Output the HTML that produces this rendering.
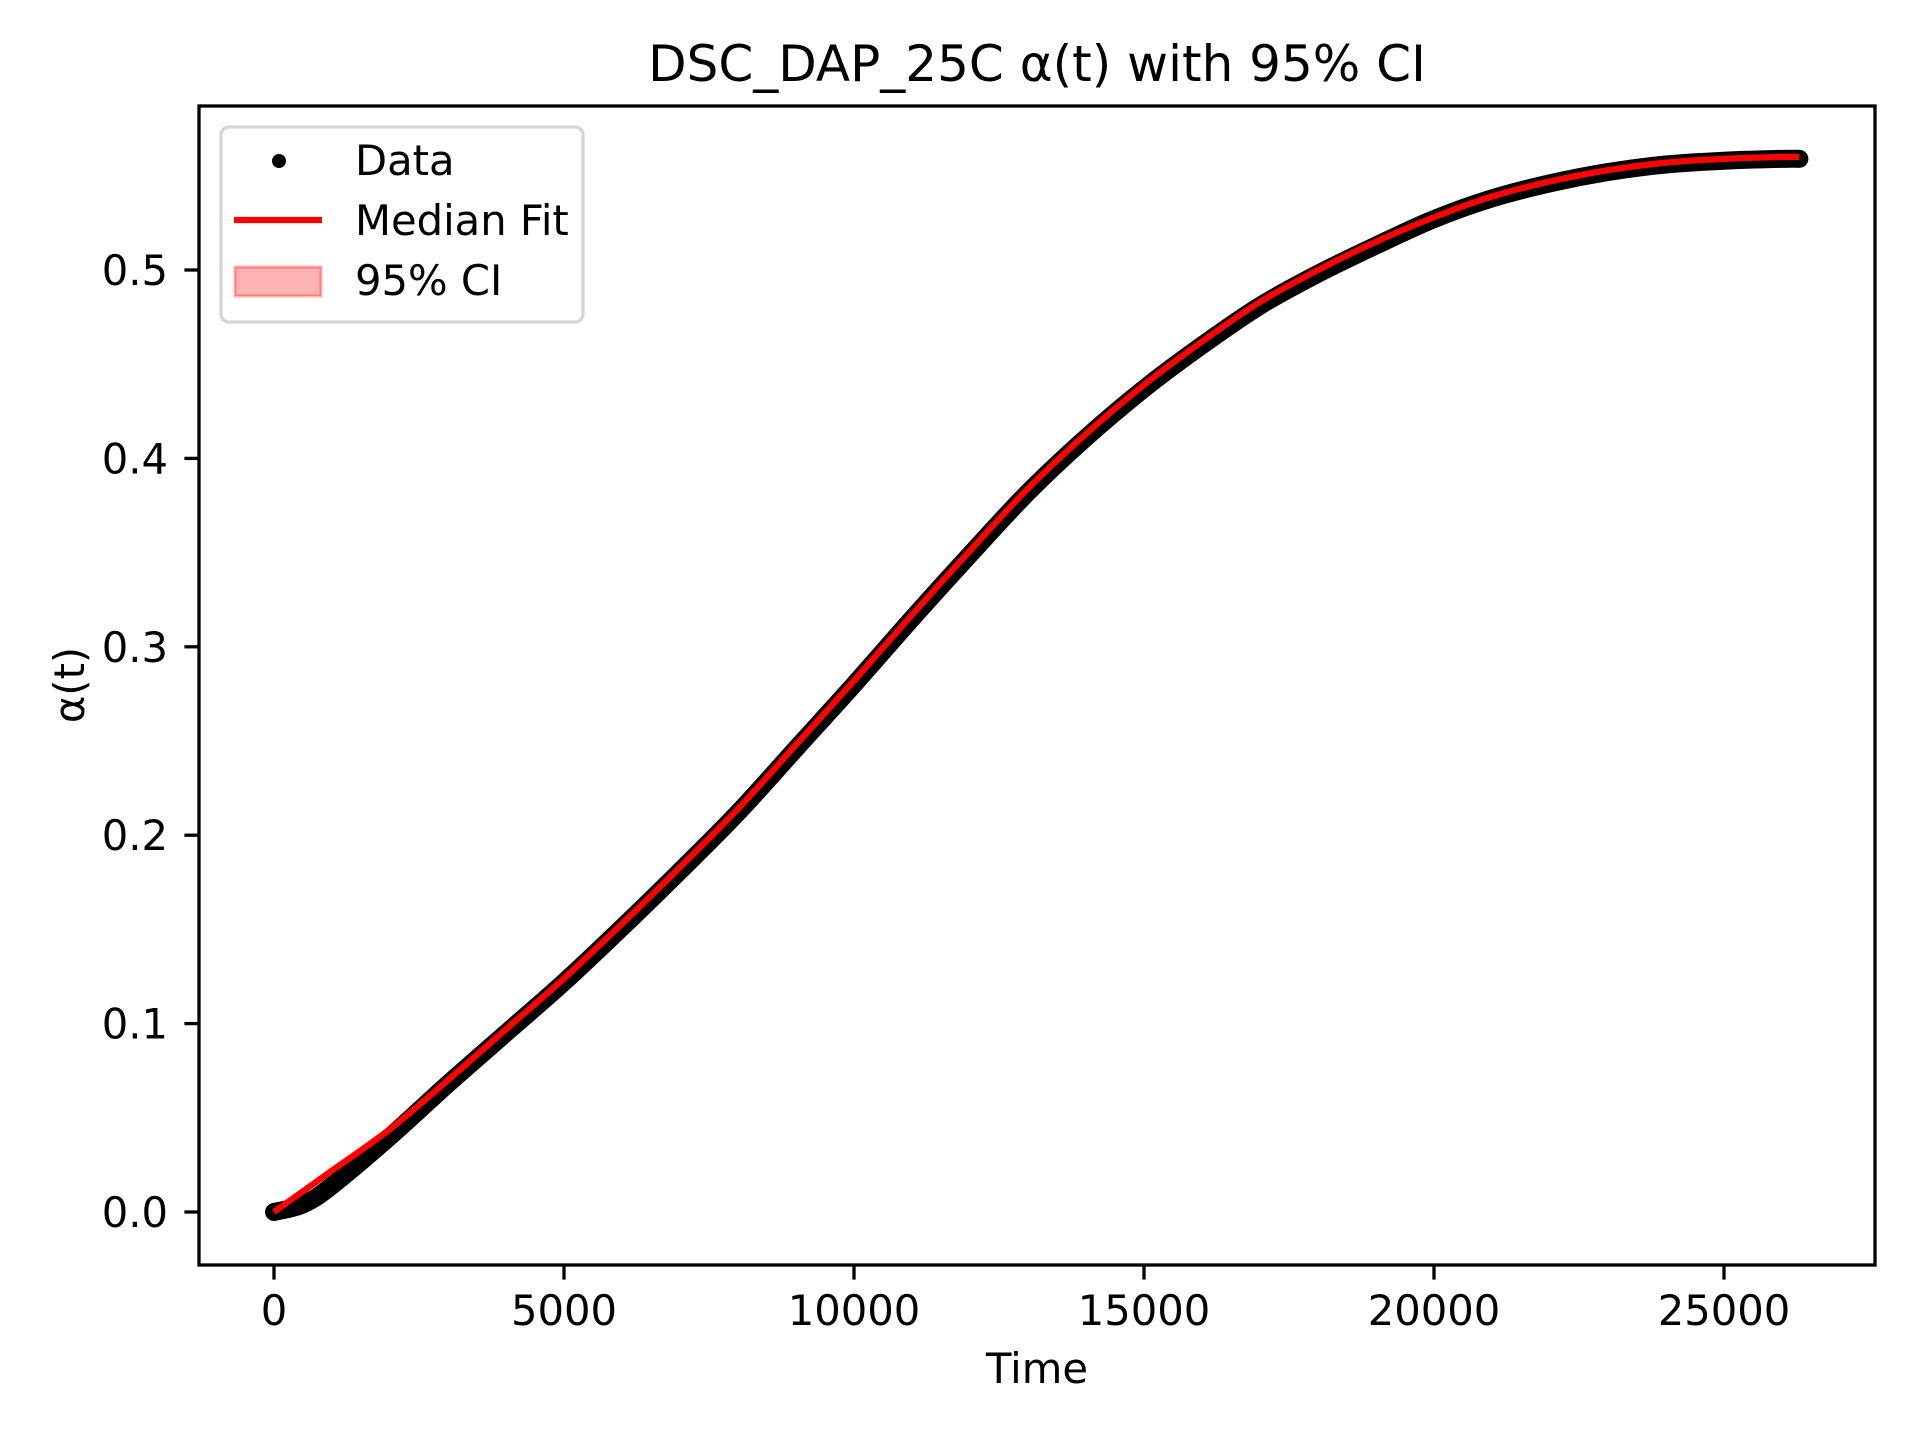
<!DOCTYPE html>
<html><head><meta charset="utf-8"><style>
html,body{margin:0;padding:0;background:#fff;}
svg text{font-family:"DejaVu Sans","Liberation Sans",sans-serif;fill:#000;}
</style></head><body>
<svg id="chart" width="1920" height="1440" viewBox="0 0 1920 1440" xmlns="http://www.w3.org/2000/svg">
<rect width="1920" height="1440" fill="#fff"/>
<text x="1037" y="81" font-size="50" text-anchor="middle">DSC_DAP_25C α(t) with 95% CI</text>
<g id="plot"></g>
<g id="axes"></g>
<text x="1037" y="1383" font-size="41.7" text-anchor="middle">Time</text>
<text transform="translate(84,685) rotate(-90)" font-size="41.7" text-anchor="middle">α(t)</text>
<g>
<rect x="221" y="127" width="362" height="195" rx="8" fill="#fff" fill-opacity="0.8" stroke="#d5d5d5" stroke-width="3.3"/>
<circle cx="279" cy="161" r="7" fill="#000"/>
<text x="355" y="175" font-size="41.7">Data</text>
<line x1="234" y1="220" x2="322" y2="220" stroke="#f00" stroke-width="6.25"/>
<text x="355" y="235" font-size="41.7">Median Fit</text>
<rect x="235" y="267" width="86" height="29" fill="rgba(255,0,0,0.3)" stroke="rgba(255,0,0,0.3)" stroke-width="3"/>
<text x="355" y="295" font-size="41.7">95% CI</text>
</g>
</svg>
<script>
const dataTime=[0,500,1000,2000,3000,4000,5000,6000,7000,8000,9000,10000,11000,12000,13000,14000,15000,16000,17000,18000,19000,20000,21000,22000,23000,24000,25000,26000,26300];
const dataAlpha=[0,0.004,0.014,0.040,0.068,0.095,0.122,0.151,0.181,0.212,0.246,0.280,0.315,0.349,0.382,0.411,0.437,0.460,0.481,0.498,0.513,0.527,0.538,0.546,0.552,0.556,0.558,0.559,0.559];
const fitTime=[0,500,1000,2000,3000,4000,5000,6000,7000,8000,9000,10000,11000,12000,13000,14000,15000,16000,17000,18000,19000,20000,21000,22000,23000,24000,25000,26000,26300];
const fitAlpha=[0,0.011,0.022,0.044,0.070,0.097,0.124,0.153,0.183,0.214,0.248,0.282,0.317,0.351,0.384,0.413,0.439,0.462,0.483,0.500,0.515,0.528,0.539,0.547,0.553,0.557,0.559,0.560,0.560];
const ciLow=fitAlpha.map(v=>v-0.001);
const ciHigh=fitAlpha.map(v=>v+0.001);
const xTicks=[0,5000,10000,15000,20000,25000];
const xTickLabels=["0","5000","10000","15000","20000","25000"];
const yTicks=[0,0.1,0.2,0.3,0.4,0.5];
const yTickLabels=["0.0","0.1","0.2","0.3","0.4","0.5"];

const L=199,R=1875,T=106,B=1265;
const X=t=>274+t*0.058;
const Y=a=>1212-a*1884;
const NS="http://www.w3.org/2000/svg";
const plot=document.getElementById('plot'),axes=document.getElementById('axes');
function mk(tag,attrs,parent){const e=document.createElementNS(NS,tag);for(const k in attrs)e.setAttribute(k,attrs[k]);parent.appendChild(e);return e;}
function spline(ts,as){
  const p=ts.map((t,i)=>[X(t),Y(as[i])]);
  let d='M'+p[0][0]+','+p[0][1];
  for(let i=0;i<p.length-1;i++){
    const p0=p[Math.max(0,i-1)],p1=p[i],p2=p[i+1],p3=p[Math.min(p.length-1,i+2)];
    const c1=[p1[0]+(p2[0]-p0[0])/6,p1[1]+(p2[1]-p0[1])/6];
    const c2=[p2[0]-(p3[0]-p1[0])/6,p2[1]-(p3[1]-p1[1])/6];
    d+=' C'+c1[0]+','+c1[1]+' '+c2[0]+','+c2[1]+' '+p2[0]+','+p2[1];
  }
  return d;
}

let band='M'+fitTime.map((t,i)=>X(t)+','+Y(ciHigh[i])).join(' L')+' L'+fitTime.slice().reverse().map((t,j)=>{const i=fitTime.length-1-j;return X(t)+','+Y(ciLow[i]);}).join(' L')+'Z';
const ci=mk('path',{d:band,fill:'rgba(255,0,0,0.3)'},plot);


const dl=mk('path',{d:spline(dataTime,dataAlpha),fill:'none',stroke:'#000','stroke-width':18,'stroke-linecap':'round','stroke-linejoin':'round'},plot);


const fl=mk('path',{d:spline(fitTime,fitAlpha),fill:'none',stroke:'#f00','stroke-width':6.25,'stroke-linejoin':'round'},plot);



const frame=mk('rect',{x:L,y:T,width:R-L,height:B-T,fill:'none',stroke:'#000','stroke-width':3.3},axes);


xTicks.forEach((v,i)=>{
  const tk=mk('line',{x1:X(v),x2:X(v),y1:B,y2:B+14.6,stroke:'#000','stroke-width':3.3},axes);
  
  
  const tx=mk('text',{x:X(v),y:B+60,'font-size':41.7,'text-anchor':'middle'},axes);
  tx.textContent=xTickLabels[i];
  
  
});
yTicks.forEach((v,i)=>{
  const tk=mk('line',{x1:L-14.6,x2:L,y1:Y(v),y2:Y(v),stroke:'#000','stroke-width':3.3},axes);
  
  
  const tx=mk('text',{x:L-31,y:Y(v)+15,'font-size':41.7,'text-anchor':'end'},axes);
  tx.textContent=yTickLabels[i];
  
  
});
</script>
</body></html>
